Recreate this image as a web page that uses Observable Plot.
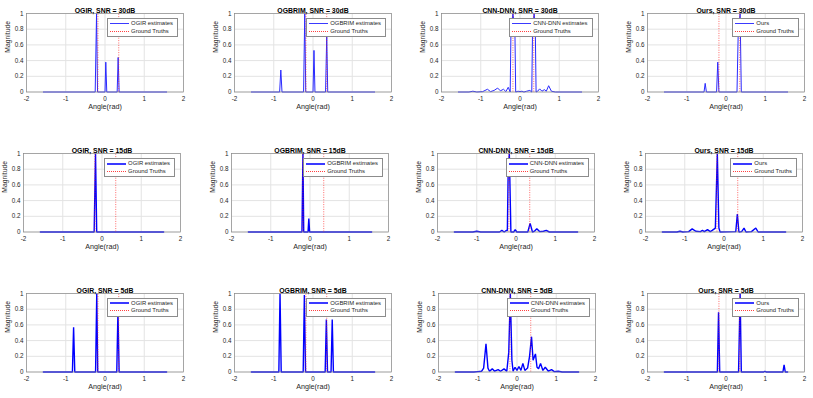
<!DOCTYPE html>
<html><head><meta charset="utf-8">
<script src="https://cdn.jsdelivr.net/npm/d3@7"></script>
<script src="https://cdn.jsdelivr.net/npm/@observablehq/plot@0.6"></script>
<style>
html,body{margin:0;padding:0;background:#fff;}
#root{position:relative;width:813px;height:398px;overflow:hidden;font-family:"Liberation Sans",Arial,sans-serif;}
.panel{position:absolute;}
.panel svg{display:block;}
.legend{position:absolute;background:#fff;border:0.6px solid #8c8c8c;padding:1px 4px 1px 2px;font-size:5.9px;color:#262626;line-height:7.6px;white-space:nowrap;}
.legend .row{display:flex;align-items:center;height:7.6px;}
.legend .row .smp{display:block;width:19px;margin-right:2px;flex:none;}
</style></head><body><div id="root"></div>
<script>
const methods = ["OGIR", "OGBRIM", "CNN-DNN", "Ours"];
const snrLevels = ["30dB", "15dB", "5dB"];
const legendLabels = ["OGIR estimates", "OGBRIM estimates", "CNN-DNN estimates", "Ours"];
const truthLabel = "Ground Truths";
const groundTruths = [-0.18, 0.35];
const xTicks = [-2, -1, 0, 1, 2];
const yTicks = [0, 0.2, 0.4, 0.6, 0.8, 1];

// SNR = 30dB
const ogir30X = [-1.57, -0.25, -0.215, -0.19, 0.0, 0.02, 0.045, 0.31, 0.335, 0.36, 1.57];
const ogir30Y = [0, 0, 1, 0, 0, 0.38, 0, 0, 0.44, 0, 0];
const ogbrim30X = [-1.57, -0.85, -0.82, -0.79, -0.24, -0.21, -0.185, 0.0, 0.025, 0.05, 0.32, 0.35, 0.375, 1.57];
const ogbrim30Y = [0, 0, 0.28, 0, 0, 1, 0, 0, 0.53, 0, 0, 0.72, 0, 0];
const cnn30X = [-1.57, -1.3, -1.2, -1.1, -0.95, -0.83, -0.75, -0.66, -0.57, -0.5, -0.42, -0.36, -0.3, -0.25, -0.23, -0.18, -0.13, -0.11, -0.05, 0.0, 0.05, 0.1, 0.17, 0.25, 0.3, 0.32, 0.36, 0.39, 0.41, 0.45, 0.5, 0.56, 0.62, 0.67, 0.73, 0.8, 0.9, 1.57];
const cnn30Y = [0, 0, 0.01, 0, 0.005, 0.035, 0.005, 0.02, 0.05, 0.015, 0.035, 0.005, 0.06, 0, 0.8, 1, 0.8, 0, 0.01, 0.005, 0.01, 0, 0.01, 0.02, 0, 0.8, 1, 0.8, 0, 0.01, 0.04, 0.01, 0.03, 0.01, 0.08, 0.01, 0, 0];
const ours30X = [-1.57, -0.56, -0.53, -0.5, -0.24, -0.21, -0.18, 0.28, 0.31, 0.36, 0.39, 1.57];
const ours30Y = [0, 0, 0.11, 0, 0, 0.38, 0, 0, 0.72, 1, 0, 0];

// SNR = 15dB
const ogir15X = [-1.57, -0.2, -0.165, -0.135, 1.57];
const ogir15Y = [0, 0, 1, 0, 0];
const ogbrim15X = [-1.57, -0.205, -0.18, -0.16, -0.05, -0.03, -0.01, 1.57];
const ogbrim15Y = [0, 0, 1, 0, 0, 0.17, 0, 0];
const cnn15X = [-1.57, -1.1, -1.0, -0.9, -0.42, -0.36, -0.3, -0.25, -0.22, -0.2, -0.17, -0.13, -0.06, -0.02, 0.02, 0.3, 0.36, 0.42, 0.47, 0.53, 0.6, 0.7, 0.77, 0.85, 1.57];
const cnn15Y = [0, 0, 0.01, 0, 0, 0.02, 0, 0.02, 0.02, 0.75, 1, 0, 0, 0.03, 0, 0, 0.11, 0, 0.01, 0.04, 0.005, 0.01, 0.02, 0, 0];
const ours15X = [-1.57, -1.2, -1.12, -1.05, -0.9, -0.81, -0.72, -0.6, -0.55, -0.5, -0.42, -0.35, -0.3, -0.22, -0.17, -0.13, -0.1, 0.3, 0.34, 0.38, 0.45, 0.51, 0.56, 0.7, 0.81, 0.87, 1.57];
const ours15Y = [0, 0, 0.01, 0, 0.005, 0.04, 0.01, 0.005, 0.02, 0.005, 0.03, 0.005, 0.02, 0.05, 1, 0.05, 0, 0.005, 0.23, 0, 0.005, 0.05, 0, 0.005, 0.05, 0, 0];

// SNR = 5dB
const ogir5X = [-1.57, -0.83, -0.8, -0.77, -0.24, -0.21, -0.185, 0.3, 0.33, 0.36, 1.57];
const ogir5Y = [0, 0, 0.57, 0, 0, 1, 0, 0, 0.78, 0, 0];
const ogbrim5X = [-1.57, -0.87, -0.84, -0.81, -0.25, -0.22, -0.19, 0.31, 0.34, 0.37, 0.46, 0.49, 0.52, 1.57];
const ogbrim5Y = [0, 0, 1, 0, 0, 0.98, 0, 0, 0.67, 0, 0, 0.67, 0, 0];
const cnn5X = [-1.57, -1.1, -1.0, -0.9, -0.85, -0.79, -0.74, -0.7, -0.63, -0.57, -0.48, -0.42, -0.33, -0.26, -0.21, -0.17, -0.13, -0.1, -0.05, 0.0, 0.05, 0.1, 0.15, 0.2, 0.27, 0.32, 0.37, 0.41, 0.44, 0.47, 0.51, 0.55, 0.6, 0.66, 0.72, 0.8, 0.88, 0.95, 1.05, 1.15, 1.57];
const cnn5Y = [0, 0, 0.005, 0.01, 0.05, 0.36, 0.05, 0.01, 0.04, 0.01, 0.03, 0.01, 0.04, 0.01, 0.25, 1, 0.15, 0.01, 0.06, 0.02, 0.07, 0.02, 0.11, 0.02, 0.05, 0.2, 0.45, 0.15, 0.19, 0.23, 0.06, 0.04, 0.11, 0.02, 0.06, 0.01, 0.03, 0.005, 0.01, 0, 0];
const ours5X = [-1.57, -0.22, -0.19, -0.16, 0.32, 0.36, 0.39, 0.96, 0.99, 1.02, 1.45, 1.48, 1.51, 1.57];
const ours5Y = [0, 0, 0.76, 0, 0, 1, 0, 0, 0.01, 0, 0, 0.09, 0, 0];

const curves = [
  [[ogir30X, ogir30Y], [ogbrim30X, ogbrim30Y], [cnn30X, cnn30Y], [ours30X, ours30Y]],
  [[ogir15X, ogir15Y], [ogbrim15X, ogbrim15Y], [cnn15X, cnn15Y], [ours15X, ours15Y]],
  [[ogir5X, ogir5Y], [ogbrim5X, ogbrim5Y], [cnn5X, cnn5Y], [ours5X, ours5Y]]
];

// layout
const frameTops = [13, 153, 292.5];
const frameLefts = [[26, 234, 440.5, 647], [23, 231, 437, 645], [26, 234, 438, 647]];
const FW = 157, FH = 78.5;
const ML = 28, MR = 4, MT = 16, MB = 26;
const root = document.getElementById("root");

snrLevels.forEach((snr, r) => {
  methods.forEach((m, c) => {
    const [xs, ys] = curves[r][c];
    const lw = r === 0 ? 1 : 1.4;
    const lineColor = r === 0 ? "#2a2aff" : "#0000ff";
    const plot = Plot.plot({
      width: ML + FW + MR, height: MT + FH + MB,
      marginLeft: ML, marginRight: MR, marginTop: MT, marginBottom: MB,
      x: {domain: [-2, 2]},
      y: {domain: [0, 1]},
      style: {fontFamily: '"Liberation Sans", Arial, sans-serif', fontSize: "6.3px", color: "#262626", background: "transparent", overflow: "visible"},
      marks: [
        Plot.gridX(xTicks, {stroke: "#e3e3e3", strokeOpacity: 1}),
        Plot.gridY(yTicks, {stroke: "#e3e3e3", strokeOpacity: 1}),
        Plot.axisX({ticks: xTicks, tickSize: 0, tickPadding: 5, label: null, tickFormat: d => String(d), fontSize: 6.3}),
        Plot.axisY({ticks: yTicks, tickSize: 0, tickPadding: 3, label: null, tickFormat: d => String(d), fontSize: 6.3}),
        Plot.line({length: xs.length}, {x: xs, y: ys, stroke: lineColor, strokeWidth: lw, strokeLinejoin: "miter"}),
        Plot.ruleX(groundTruths, {y1: 0, y2: 1, stroke: "#ff2020", strokeOpacity: 0.85, strokeWidth: 0.8, strokeDasharray: "1,1.4"}),
        Plot.frame({stroke: "#8a8a8a", strokeWidth: 0.7}),
        Plot.text([`${m}, SNR = ${snr}`], {frameAnchor: "top", dy: -5.5, fontWeight: "bold", fontSize: 6.9, fill: "#000"}),
        Plot.text(["Angle(rad)"], {frameAnchor: "bottom", dy: 17, fontSize: 7.2, fill: "#262626"}),
        Plot.text(["Magnitude"], {frameAnchor: "left", dx: -19, rotate: -90, fontSize: 6.8, fill: "#262626"})
      ]
    });
    const div = document.createElement("div");
    div.className = "panel";
    div.style.left = (frameLefts[r][c] - ML) + "px";
    div.style.top = (frameTops[r] - MT) + "px";
    div.appendChild(plot);
    const leg = document.createElement("div");
    leg.className = "legend";
    leg.style.right = (MR + 5) + "px";
    leg.style.top = (MT + 5) + "px";
    const sw = r === 0 ? 1 : 2;
    leg.innerHTML =
      `<div class="row"><span class="smp" style="height:0;border-top:${sw}px solid #3a3aff;"></span><span class="lbl"></span></div>` +
      `<div class="row"><span class="smp" style="height:0;border-top:1px dotted #ff4040;"></span><span class="lbl"></span></div>`;
    const spans = leg.querySelectorAll(".lbl");
    spans[0].textContent = legendLabels[c];
    spans[1].textContent = truthLabel;
    div.appendChild(leg);
    root.appendChild(div);
  });
});
</script></body></html>
